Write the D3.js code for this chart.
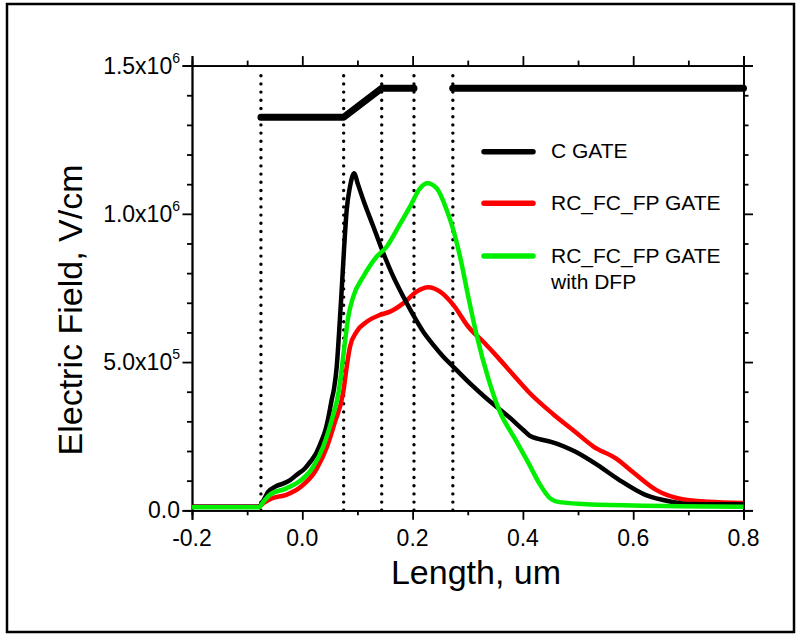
<!DOCTYPE html>
<html>
<head>
<meta charset="utf-8">
<script src="https://cdn.jsdelivr.net/npm/d3@7"></script>
<style>
    body { margin: 0; background: #fff; }
    svg text { font-family: "Liberation Sans", Arial, sans-serif; fill: #000; }
</style>
</head>
<body>
<svg id="chart" width="799" height="635"></svg>
<script>
// length in um, field in MV/cm (1.0 == 1.0x10^6 V/cm)
const cGateX = [-0.2, -0.1, -0.079, -0.07, -0.062, -0.049, -0.035, -0.022, -0.01, 0.005, 0.015, 0.025, 0.035,
    0.042, 0.048, 0.053, 0.0575, 0.0624, 0.0666, 0.0714, 0.0756, 0.0805, 0.0865, 0.0943, 0.1, 0.1106, 0.1288,
    0.147, 0.165, 0.183, 0.201, 0.219, 0.2375, 0.2557, 0.2738, 0.304, 0.3336, 0.374, 0.4007, 0.412, 0.43,
    0.451, 0.4946, 0.535, 0.575, 0.622, 0.669, 0.703, 0.75, 0.8];
const cGateY = [0.012, 0.012, 0.012, 0.035, 0.062, 0.08, 0.09, 0.102, 0.12, 0.142, 0.165, 0.192, 0.235,
    0.271, 0.32, 0.37, 0.41, 0.484, 0.597, 0.743, 0.878, 1.013, 1.092, 1.137, 1.105, 1.047, 0.957,
    0.867, 0.788, 0.721, 0.659, 0.603, 0.558, 0.518, 0.484, 0.428, 0.378, 0.316, 0.271, 0.252, 0.24,
    0.231, 0.198, 0.153, 0.102, 0.052, 0.029, 0.021, 0.02, 0.02];

const rcGateX = [-0.2, -0.1, -0.079, -0.07, -0.0557, -0.0289, -0.002, 0.0248, 0.045, 0.0584, 0.0744,
    0.0805, 0.0865, 0.0986, 0.1168, 0.1409, 0.159, 0.183, 0.2074, 0.2285, 0.2497, 0.2738, 0.301, 0.33,
    0.355, 0.38, 0.41, 0.4544, 0.4946, 0.528, 0.5685, 0.602, 0.6423, 0.6826, 0.736, 0.8];
const rcGateY = [0.012, 0.012, 0.012, 0.025, 0.04, 0.052, 0.08, 0.136, 0.215, 0.293, 0.4,
    0.484, 0.552, 0.603, 0.636, 0.659, 0.67, 0.698, 0.7375, 0.752, 0.7375, 0.693, 0.619, 0.565,
    0.515, 0.462, 0.4, 0.325, 0.265, 0.215, 0.175, 0.125, 0.068, 0.04, 0.029, 0.025];

const dfpGateX = [-0.2, -0.1, -0.079, -0.07, -0.059, -0.0289, -0.002, 0.018, 0.038, 0.055, 0.066,
    0.0756, 0.0834, 0.0925, 0.1106, 0.135, 0.153, 0.1712, 0.1953, 0.2134, 0.2267, 0.2437, 0.2618,
    0.2738, 0.286, 0.301, 0.315, 0.338, 0.357, 0.387, 0.41, 0.43, 0.449, 0.46, 0.5, 0.6, 0.8];
const dfpGateY = [0.01, 0.01, 0.01, 0.03, 0.052, 0.074, 0.102, 0.142, 0.215, 0.316, 0.4,
    0.541, 0.653, 0.721, 0.788, 0.856, 0.889, 0.946, 1.024, 1.086, 1.103, 1.086, 1.013,
    0.946, 0.856, 0.72, 0.6, 0.44, 0.338, 0.237, 0.16, 0.09, 0.041, 0.03, 0.022, 0.016, 0.012];

// gate outline drawn above the curves (two pieces with a gap)
const gateLeftX = [-0.075, 0.075, 0.144, 0.2025];
const gateLeftY = [1.326, 1.326, 1.4235, 1.4235];
const gateRightX = [0.2727, 0.8];
const gateRightY = [1.4235, 1.4235];

// vertical dotted marker lines
const markerX = [-0.075, 0.075, 0.144, 0.2025, 0.273];

const xMajor = [-0.2, 0.0, 0.2, 0.4, 0.6, 0.8];
const xMinor = [-0.1, 0.1, 0.3, 0.5, 0.7];
const xLabels = ['-0.2', '0.0', '0.2', '0.4', '0.6', '0.8'];
const yMajor = [0, 0.5, 1.0, 1.5];
const yMinor = [0.1, 0.2, 0.3, 0.4, 0.6, 0.7, 0.8, 0.9, 1.1, 1.2, 1.3, 1.4];
const yLabels = ['0.0', '5.0x10', '1.0x10', '1.5x10'];
const yExponents = ['', '5', '6', '6'];

const seriesNames = ['C GATE', 'RC_FC_FP GATE', 'RC_FC_FP GATE'];
const seriesColors = ['#000000', '#ff0000', '#00ee00'];

(function () {
    let svg = d3.select('#chart');

    svg.append('rect')
        .attr('x', 7).attr('y', 4)
        .attr('width', 787).attr('height', 628)
        .attr('fill', 'none')
        .attr('stroke', '#000')
        .attr('stroke-width', 2.5);

    let x = d3.scaleLinear().domain([-0.2, 0.8]).range([192, 743.5]);
    let y = d3.scaleLinear().domain([0, 1.5]).range([510.3, 65.6]);

    function styleAxis(g) {
        g.select('.domain').attr('stroke-width', 1.8);
        g.selectAll('.tick line').attr('stroke-width', 1.8);
    }

    // major + minor ticks on all four sides, all pointing outward
    let axes = [
        [d3.axisBottom(x), 'translate(0,' + y(0) + ')', xMajor, xMinor],
        [d3.axisTop(x), 'translate(0,' + y(1.5) + ')', xMajor, xMinor],
        [d3.axisLeft(y), 'translate(' + x(-0.2) + ',0)', yMajor, yMinor],
        [d3.axisRight(y), 'translate(' + x(0.8) + ',0)', yMajor, yMinor]
    ];
    axes.forEach(function (a) {
        svg.append('g')
            .attr('transform', a[1])
            .call(a[0].tickValues(a[3]).tickSize(5).tickFormat(''))
            .call(styleAxis);
        svg.append('g')
            .attr('transform', a[1])
            .call(a[0].tickValues(a[2]).tickSize(9.5).tickFormat(''))
            .call(styleAxis);
    });

    // x tick labels
    svg.append('g').selectAll('text')
        .data(xMajor)
        .join('text')
        .attr('x', function (d) { return x(d); })
        .attr('y', 546)
        .attr('text-anchor', 'middle')
        .attr('font-size', 23)
        .text(function (d, i) { return xLabels[i]; });

    // y tick labels with superscript exponent
    let yText = svg.append('g').selectAll('text')
        .data(yMajor)
        .join('text')
        .attr('x', 180)
        .attr('y', function (d) { return y(d) + 8; })
        .attr('text-anchor', 'end')
        .attr('font-size', 23);
    yText.append('tspan').text(function (d, i) { return yLabels[i]; });
    yText.append('tspan')
        .attr('font-size', 14)
        .attr('dy', -11)
        .text(function (d, i) { return yExponents[i]; });

    // axis titles
    svg.append('text')
        .attr('x', 476)
        .attr('y', 584)
        .attr('text-anchor', 'middle')
        .attr('font-size', 34)
        .text('Length, um');
    svg.append('text')
        .attr('transform', 'translate(82,310) rotate(-90)')
        .attr('text-anchor', 'middle')
        .attr('font-size', 34)
        .text('Electric Field, V/cm');

    let line = d3.line()
        .x(function (d) { return x(d[0]); })
        .y(function (d) { return y(d[1]); });
    let smooth = d3.line()
        .x(function (d) { return x(d[0]); })
        .y(function (d) { return y(d[1]); })
        .curve(d3.curveMonotoneX);

    // dotted markers
    svg.append('g').selectAll('path')
        .data(markerX)
        .join('path')
        .attr('d', function (d) { return line([[d, 0], [d, 1.49]]); })
        .attr('fill', 'none')
        .attr('stroke', '#000')
        .attr('stroke-width', 3.4)
        .attr('stroke-linecap', 'round')
        .attr('stroke-dasharray', '0,8.2');

    // gate outline
    let gatePieces = [d3.zip(gateLeftX, gateLeftY), d3.zip(gateRightX, gateRightY)];
    svg.append('g').selectAll('path')
        .data(gatePieces)
        .join('path')
        .attr('d', line)
        .attr('fill', 'none')
        .attr('stroke', '#000')
        .attr('stroke-width', 7)
        .attr('stroke-linecap', 'round')
        .attr('stroke-linejoin', 'round');

    // field curves
    let series = [
        d3.zip(cGateX, cGateY),
        d3.zip(rcGateX, rcGateY),
        d3.zip(dfpGateX, dfpGateY)
    ];
    let drawOrder = [1, 0, 2];
    svg.append('g').selectAll('path')
        .data(drawOrder)
        .join('path')
        .attr('d', function (i) { return smooth(series[i]); })
        .attr('fill', 'none')
        .attr('stroke', function (i) { return seriesColors[i]; })
        .attr('stroke-width', 4.5)
        .attr('stroke-linejoin', 'round');

    // legend
    let legendY = [151.7, 203.3, 256];
    let legend = svg.append('g').selectAll('g')
        .data(seriesNames)
        .join('g')
        .attr('transform', function (d, i) { return 'translate(0,' + legendY[i] + ')'; });
    legend.append('line')
        .attr('x1', 484).attr('x2', 533)
        .attr('stroke', function (d, i) { return seriesColors[i]; })
        .attr('stroke-width', 5.5)
        .attr('stroke-linecap', 'round');
    legend.append('text')
        .attr('x', 551)
        .attr('y', 6.5)
        .attr('font-size', 21)
        .text(function (d) { return d; });
    svg.append('text')
        .attr('x', 551)
        .attr('y', 289)
        .attr('font-size', 21)
        .text('with DFP');
})();
</script>
</body>
</html>
